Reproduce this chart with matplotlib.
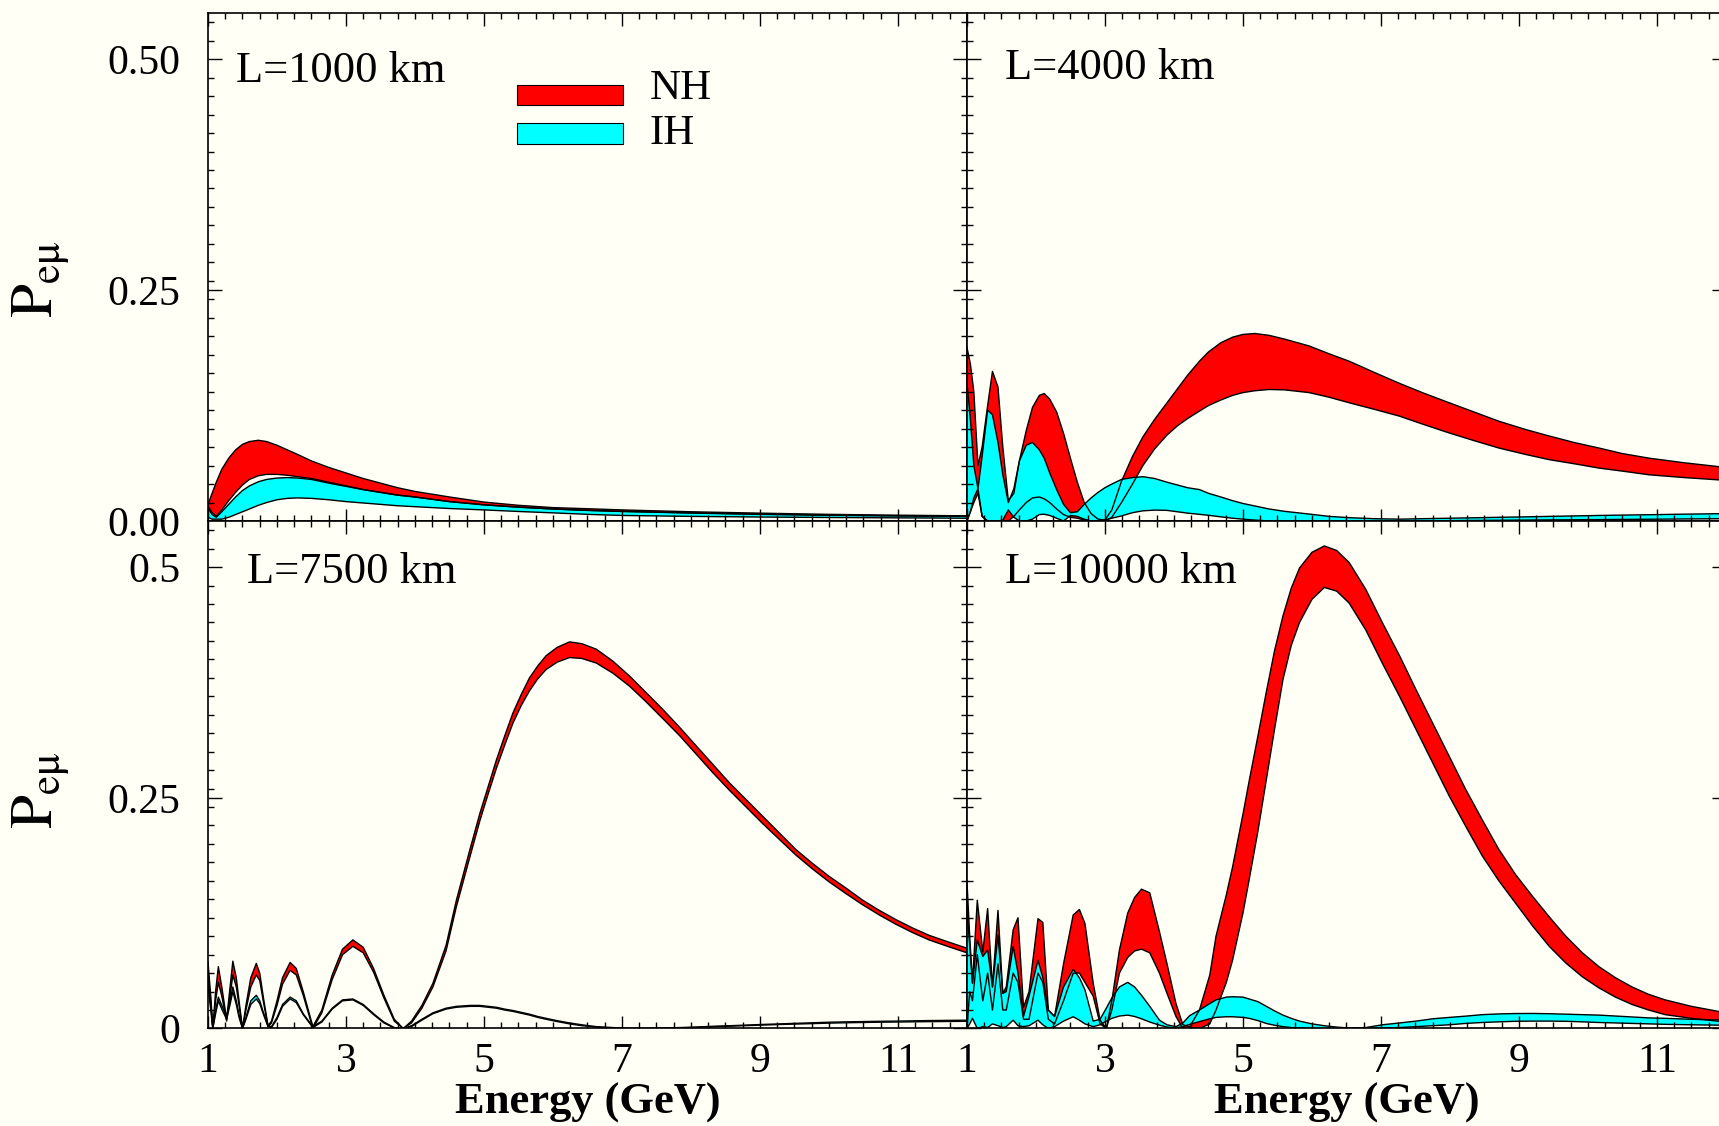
import matplotlib
matplotlib.use('Agg')
import matplotlib.pyplot as plt
from matplotlib.patches import Rectangle
from matplotlib.ticker import FixedLocator, MultipleLocator

plt.rcParams['font.family'] = ['Liberation Serif', 'DejaVu Serif']
plt.rcParams['mathtext.fontset'] = 'stix'

BG = '#fffff5'
NH_COLOR = '#ff0000'
IH_COLOR = '#00ffff'

# L = 1000 km
e_1000 = [1.00, 1.06, 1.12, 1.20, 1.30, 1.40, 1.50, 1.60, 1.73, 1.85, 2.00, 2.15, 2.30, 2.50, 2.75, 3.00,
          3.25, 3.50, 3.75, 4.00, 4.50, 5.00, 5.50, 6.00, 6.50, 7.00, 8.00, 9.00, 10.00, 11.00, 12.00]
nh_hi_1000 = [0.018, 0.03, 0.042, 0.056, 0.068, 0.077, 0.083, 0.086, 0.0874, 0.086, 0.082, 0.077, 0.072, 0.065,
              0.058, 0.052, 0.046, 0.041, 0.036, 0.032, 0.026, 0.0205, 0.017, 0.0145, 0.0133, 0.012, 0.010,
              0.0085, 0.0072, 0.0063, 0.0056]
nh_lo_1000 = [0.016, 0.009, 0.005, 0.012, 0.022, 0.031, 0.039, 0.045, 0.049, 0.0505, 0.0505, 0.0495, 0.048,
              0.046, 0.042, 0.038, 0.034, 0.031, 0.028, 0.026, 0.021, 0.0175, 0.015, 0.013, 0.0115, 0.0105,
              0.0088, 0.0074, 0.0064, 0.0056, 0.005]
ih_hi_1000 = [0.014, 0.007, 0.004, 0.01, 0.018, 0.026, 0.033, 0.038, 0.0425, 0.045, 0.0465, 0.047, 0.0465,
              0.045, 0.041, 0.0375, 0.034, 0.031, 0.028, 0.026, 0.021, 0.0175, 0.015, 0.013, 0.0115, 0.0103,
              0.0086, 0.0072, 0.0062, 0.0055, 0.005]
ih_lo_1000 = [0.004, 0.002, 0.002, 0.002, 0.004, 0.007, 0.01, 0.013, 0.017, 0.02, 0.023, 0.0245, 0.025,
              0.0245, 0.023, 0.021, 0.0195, 0.018, 0.0165, 0.0155, 0.0135, 0.012, 0.0103, 0.0088, 0.0072,
              0.006, 0.005, 0.0043, 0.0038, 0.0034, 0.003]

# L = 4000 km
e_4000 = [1.00, 1.05, 1.10, 1.16, 1.22, 1.30, 1.37, 1.45, 1.52, 1.60, 1.68, 1.76, 1.86, 1.95, 2.05, 2.12,
          2.20, 2.30, 2.40, 2.50, 2.60, 2.70, 2.80, 2.90, 3.00, 3.10, 3.24, 3.40, 3.55, 3.72, 3.90, 4.05,
          4.20, 4.37, 4.50, 4.68, 4.85, 5.00, 5.17, 5.38, 5.60, 5.96, 6.25, 6.54, 6.90, 7.27, 7.60, 7.99,
          8.35, 8.71, 9.10, 9.44, 9.80, 10.16, 10.50, 10.89, 11.40, 12.0]
nh_hi_4000 = [0.188, 0.17, 0.14, 0.06, 0.08, 0.125, 0.162, 0.145, 0.08, 0.022, 0.03, 0.065, 0.098, 0.123,
              0.136, 0.138, 0.132, 0.118, 0.095, 0.068, 0.042, 0.02, 0.008, 0.002, 0.001, 0.012, 0.043,
              0.07, 0.091, 0.11, 0.128, 0.143, 0.158, 0.173, 0.183, 0.193, 0.199, 0.202, 0.203, 0.201, 0.197,
              0.1895, 0.181, 0.173, 0.161, 0.149, 0.139, 0.128, 0.118, 0.108, 0.099, 0.092, 0.085, 0.079,
              0.073, 0.068, 0.063, 0.058]
nh_lo_4000 = [0.0, 0.01, 0.02, 0.03, 0.005, 0.0, 0.0, 0.0, 0.0, 0.0, 0.005, 0.012, 0.02, 0.025, 0.026,
              0.024, 0.02, 0.013, 0.007, 0.004, 0.003, 0.001, 0.0, 0.0, 0.0, 0.004, 0.02, 0.04, 0.06, 0.078,
              0.093, 0.103, 0.111, 0.119, 0.125, 0.131, 0.136, 0.139, 0.141, 0.1424, 0.142, 0.139, 0.134,
              0.128, 0.121, 0.1135, 0.105, 0.0953, 0.087, 0.079, 0.072, 0.0664, 0.062, 0.0573, 0.054, 0.050,
              0.047, 0.044]
ih_hi_4000 = [0.15, 0.11, 0.06, 0.035, 0.07, 0.12, 0.115, 0.085, 0.05, 0.02, 0.035, 0.065, 0.082, 0.085,
              0.077, 0.068, 0.052, 0.034, 0.018, 0.009, 0.01, 0.018, 0.025, 0.031, 0.036, 0.04, 0.045, 0.047,
              0.048, 0.046, 0.042, 0.039, 0.036, 0.034, 0.03, 0.026, 0.022, 0.019, 0.0163, 0.013, 0.0105,
              0.0075, 0.005, 0.0036, 0.0025, 0.002, 0.0025, 0.003, 0.0035, 0.004, 0.0045, 0.005, 0.0055,
              0.006, 0.0064, 0.0068, 0.0074, 0.008]
ih_lo_4000 = [0.0, 0.01, 0.025, 0.035, 0.005, 0.0, 0.0, 0.0, 0.001, 0.012, 0.004, 0.0, 0.0, 0.002, 0.007,
              0.0073, 0.006, 0.003, 0.0, 0.006, 0.005, 0.002, 0.0, 0.0, 0.001, 0.003, 0.0055, 0.009, 0.011,
              0.0118, 0.0115, 0.010, 0.0085, 0.0072, 0.0062, 0.0045, 0.003, 0.002, 0.001, 0.0, 0.0, 0.0,
              0.0, 0.0, 0.0, 0.0, 0.0002, 0.0004, 0.0006, 0.0008, 0.001, 0.0012, 0.0013, 0.0015, 0.0017,
              0.0019, 0.0022, 0.0025]

# L = 7500 km
e_7500 = [1.00, 1.04, 1.07, 1.11, 1.15, 1.20, 1.27, 1.32, 1.36, 1.41, 1.45, 1.50, 1.55, 1.62, 1.70, 1.75,
          1.80, 1.87, 1.92, 2.00, 2.08, 2.19, 2.28, 2.38, 2.52, 2.65, 2.80, 2.95, 3.10, 3.25, 3.40, 3.55,
          3.70, 3.83, 3.95, 4.10, 4.26, 4.45, 4.60, 4.80, 4.94, 5.06, 5.18, 5.30, 5.42, 5.54, 5.66, 5.78,
          5.90, 6.06, 6.24, 6.42, 6.63, 6.87, 7.11, 7.35, 7.59, 7.84, 8.08, 8.32, 8.56, 8.80, 9.04, 9.28,
          9.52, 9.76, 10.00, 10.25, 10.49, 10.73, 10.97, 11.21, 11.45, 11.72, 12.0]
nh_hi_7500 = [0.0724, 0.035, 0.0, 0.04, 0.067, 0.045, 0.01, 0.045, 0.073, 0.055, 0.03, 0.0, 0.025, 0.055,
              0.0705, 0.06, 0.035, 0.003, 0.008, 0.03, 0.055, 0.0716, 0.065, 0.04, 0.002, 0.02, 0.058, 0.086,
              0.096, 0.088, 0.065, 0.036, 0.01, 0.0, 0.008, 0.025, 0.049, 0.09, 0.139, 0.195, 0.233, 0.262,
              0.291, 0.317, 0.342, 0.362, 0.380, 0.393, 0.404, 0.413, 0.419, 0.417, 0.411, 0.398, 0.382,
              0.364, 0.346, 0.326, 0.306, 0.286, 0.266, 0.248, 0.230, 0.212, 0.194, 0.179, 0.165, 0.152,
              0.139, 0.128, 0.118, 0.109, 0.101, 0.094, 0.087]
nh_lo_7500 = [0.06, 0.03, 0.0, 0.03, 0.05, 0.035, 0.008, 0.035, 0.058, 0.045, 0.025, 0.0, 0.02, 0.045,
              0.058, 0.052, 0.03, 0.002, 0.006, 0.025, 0.048, 0.063, 0.058, 0.036, 0.0, 0.017, 0.053, 0.08,
              0.089, 0.082, 0.061, 0.033, 0.008, 0.0, 0.006, 0.022, 0.045, 0.084, 0.132, 0.187, 0.225, 0.254,
              0.282, 0.307, 0.331, 0.35, 0.366, 0.379, 0.389, 0.397, 0.402, 0.401, 0.396, 0.385, 0.371,
              0.354, 0.336, 0.317, 0.297, 0.277, 0.258, 0.240, 0.222, 0.205, 0.188, 0.173, 0.159, 0.146,
              0.134, 0.123, 0.113, 0.104, 0.096, 0.089, 0.082]
ih_hi_7500 = [0.052, 0.025, 0.0, 0.02, 0.034, 0.025, 0.013, 0.03, 0.045, 0.03, 0.015, 0.0, 0.012, 0.03,
              0.036, 0.03, 0.018, 0.003, 0.002, 0.012, 0.026, 0.034, 0.03, 0.016, 0.002, 0.008, 0.022, 0.031,
              0.032, 0.026, 0.016, 0.007, 0.001, 0.0, 0.003, 0.01, 0.017, 0.022, 0.024, 0.025, 0.025, 0.024,
              0.023, 0.021, 0.0195, 0.0175, 0.0155, 0.013, 0.011, 0.0085, 0.006, 0.004, 0.002, 0.001, 0.0003,
              0.0003, 0.0006, 0.001, 0.0016, 0.0024, 0.003, 0.0037, 0.0044, 0.005, 0.0056, 0.0062, 0.0068,
              0.0072, 0.0075, 0.0078, 0.008, 0.0083, 0.0086, 0.0088, 0.009]
ih_lo_7500 = [0.045, 0.02, 0.0, 0.016, 0.03, 0.021, 0.01, 0.026, 0.04, 0.026, 0.012, 0.0, 0.01, 0.026,
              0.032, 0.027, 0.016, 0.002, 0.001, 0.01, 0.024, 0.032, 0.028, 0.015, 0.001, 0.007, 0.021, 0.03,
              0.031, 0.025, 0.015, 0.006, 0.0005, 0.0, 0.002, 0.009, 0.016, 0.021, 0.023, 0.024, 0.024, 0.023,
              0.022, 0.020, 0.0185, 0.0165, 0.0145, 0.012, 0.010, 0.0075, 0.005, 0.003, 0.0015, 0.0005, 0.0,
              0.0, 0.0002, 0.0006, 0.0012, 0.0019, 0.0025, 0.0031, 0.0037, 0.0043, 0.0048, 0.0053, 0.0058,
              0.0062, 0.0065, 0.0068, 0.007, 0.0072, 0.0074, 0.0076, 0.0078]

# L = 10000 km
e_10000 = [1.00, 1.04, 1.08, 1.15, 1.23, 1.30, 1.37, 1.45, 1.52, 1.57, 1.67, 1.74, 1.82, 1.90, 2.03, 2.10,
           2.18, 2.27, 2.40, 2.54, 2.63, 2.71, 2.83, 2.93, 3.02, 3.10, 3.21, 3.33, 3.43, 3.53, 3.65, 3.79,
           3.90, 4.03, 4.13, 4.23, 4.37, 4.52, 4.61, 4.76, 4.85, 5.00, 5.09, 5.22, 5.34, 5.46, 5.58, 5.70,
           5.82, 6.00, 6.18, 6.36, 6.54, 6.78, 7.02, 7.27, 7.51, 7.75, 7.99, 8.23, 8.47, 8.71, 8.95, 9.20,
           9.44, 9.68, 9.92, 10.16, 10.40, 10.64, 10.88, 11.12, 11.50, 12.0]
nh_hi_10000 = [0.16, 0.10, 0.05, 0.139, 0.083, 0.13, 0.045, 0.128, 0.038, 0.045, 0.107, 0.12, 0.023, 0.04,
               0.119, 0.115, 0.02, 0.013, 0.07, 0.123, 0.129, 0.114, 0.049, 0.009, 0.0, 0.03, 0.085, 0.125,
               0.142, 0.151, 0.147, 0.105, 0.07, 0.027, 0.004, 0.002, 0.02, 0.058, 0.1, 0.145, 0.175, 0.232,
               0.268, 0.318, 0.365, 0.41, 0.447, 0.477, 0.499, 0.516, 0.523, 0.518, 0.505, 0.476, 0.44,
               0.404, 0.367, 0.331, 0.295, 0.259, 0.226, 0.194, 0.167, 0.143, 0.121, 0.100, 0.082, 0.067,
               0.055, 0.045, 0.037, 0.031, 0.024, 0.017]
nh_lo_10000 = [0.0, 0.04, 0.03, 0.08, 0.03, 0.06, 0.02, 0.07, 0.02, 0.02, 0.06, 0.05, 0.01, 0.01, 0.06,
               0.05, 0.01, 0.005, 0.03, 0.06, 0.06, 0.05, 0.035, 0.005, 0.0, 0.02, 0.06, 0.077, 0.084, 0.086,
               0.082, 0.06, 0.038, 0.013, 0.0, 0.0, 0.0, 0.005, 0.02, 0.05, 0.074, 0.125, 0.161, 0.215,
               0.27, 0.325, 0.378, 0.415, 0.44, 0.465, 0.478, 0.474, 0.461, 0.432, 0.396, 0.36, 0.324,
               0.288, 0.252, 0.219, 0.187, 0.16, 0.136, 0.111, 0.089, 0.071, 0.056, 0.044, 0.034, 0.026,
               0.02, 0.015, 0.011, 0.007]
ih_hi_10000 = [0.128, 0.09, 0.049, 0.096, 0.078, 0.085, 0.045, 0.101, 0.038, 0.04, 0.089, 0.06, 0.013,
               0.035, 0.074, 0.055, 0.02, 0.013, 0.045, 0.064, 0.055, 0.042, 0.008, 0.01, 0.022, 0.033,
               0.045, 0.05, 0.045, 0.036, 0.024, 0.009, 0.004, 0.002, 0.006, 0.014, 0.02, 0.027, 0.031,
               0.034, 0.0344, 0.034, 0.032, 0.029, 0.024, 0.019, 0.0145, 0.011, 0.008, 0.005, 0.003, 0.0015,
               0.0005, 0.001, 0.004, 0.006, 0.008, 0.0105, 0.012, 0.0134, 0.015, 0.0158, 0.0162, 0.0163,
               0.016, 0.0155, 0.015, 0.0145, 0.0135, 0.0125, 0.0115, 0.011, 0.01, 0.009]
ih_lo_10000 = [0.0, 0.005, 0.011, 0.0, 0.002, 0.001, 0.005, 0.003, 0.001, 0.002, 0.009, 0.003, 0.002,
               0.003, 0.009, 0.004, 0.0, 0.002, 0.008, 0.0127, 0.009, 0.005, 0.002, 0.004, 0.008, 0.011,
               0.0135, 0.0145, 0.013, 0.0105, 0.007, 0.0036, 0.0015, 0.0007, 0.002, 0.0045, 0.0075, 0.0105,
               0.012, 0.0127, 0.0127, 0.012, 0.011, 0.0085, 0.0054, 0.0035, 0.002, 0.001, 0.0005, 0.0, 0.0,
               0.0, 0.0, 0.0, 0.0005, 0.001, 0.002, 0.003, 0.004, 0.0055, 0.0065, 0.0072, 0.0078, 0.008,
               0.008, 0.0078, 0.0072, 0.0065, 0.006, 0.0055, 0.005, 0.0045, 0.004, 0.0035]

x_major = [1, 3, 5, 7, 9, 11]
x_major_labels = ['1', '3', '5', '7', '9', '11']
y_major = [0, 0.25, 0.5]
y_labels_top = ['0.00', '0.25', '0.50']
y_labels_bottom = ['0', '0.25', '0.5']
legend_names = ['NH', 'IH']
legend_colors = [NH_COLOR, IH_COLOR]


def draw_band(ax, e, hi, lo, color):
    ax.fill_between(e, lo, hi, facecolor=color, linewidth=0)
    ax.plot(e, hi, color='black', lw=1.0)
    ax.plot(e, lo, color='black', lw=1.0)


def style_axes(ax, show_x, y_labels):
    ax.set_facecolor(BG)
    ax.set_xlim(1, 12)
    ax.set_ylim(0, 0.55)
    ax.xaxis.set_major_locator(FixedLocator(x_major))
    ax.xaxis.set_minor_locator(MultipleLocator(0.25))
    ax.yaxis.set_major_locator(FixedLocator(y_major))
    ax.yaxis.set_minor_locator(MultipleLocator(0.02))
    ax.tick_params(which='both', direction='in', top=True, right=True, width=1.0, labelsize=30)
    ax.tick_params(which='major', length=9)
    ax.tick_params(which='minor', length=4.5)
    ax.tick_params(axis='y', which='major', length=10, pad=20)
    ax.tick_params(axis='x', which='major', pad=10)
    if show_x:
        ax.set_xticklabels(x_major_labels)
        ax.set_xlabel('Energy (GeV)', fontsize=32, fontweight='bold', labelpad=1)
    else:
        ax.set_xticklabels([])
    if y_labels is not None:
        ax.set_yticklabels(y_labels)
    else:
        ax.set_yticklabels([])
    for sp in ax.spines.values():
        sp.set_linewidth(1.2)


def draw_legend(ax):
    # boxes and names placed in axes fractions, as in the original figure
    box_y = [0.818, 0.743]
    text_y = [0.85, 0.762]
    for name, color, y, ty in zip(legend_names, legend_colors, box_y, text_y):
        ax.add_patch(Rectangle((0.407, y), 0.1397, 0.04, transform=ax.transAxes,
                               facecolor=color, edgecolor='black', lw=0.8, zorder=5))
        ax.text(0.582, ty, name, transform=ax.transAxes, fontsize=31,
                ha='left', va='center', zorder=5)


def main():
    fig = plt.figure(figsize=(17.19, 11.26), dpi=100, facecolor=BG)
    left, mid, right = 0.1210, 0.5625, 1.0047
    bottom, middle, top = 0.0866, 0.5373, 0.98845
    w = mid - left
    ax_tl = fig.add_axes([left, middle, w, top - middle])
    ax_tr = fig.add_axes([mid, middle, w, top - middle])
    ax_bl = fig.add_axes([left, bottom, w, middle - bottom])
    ax_br = fig.add_axes([mid, bottom, w, middle - bottom])

    panels = [
        (ax_tl, e_1000, nh_hi_1000, nh_lo_1000, ih_hi_1000, ih_lo_1000, 'L=1000 km', 0.037, 0.885),
        (ax_tr, e_4000, nh_hi_4000, nh_lo_4000, ih_hi_4000, ih_lo_4000, 'L=4000 km', 0.05, 0.891),
        (ax_bl, e_7500, nh_hi_7500, nh_lo_7500, ih_hi_7500, ih_lo_7500, 'L=7500 km', 0.051, 0.899),
        (ax_br, e_10000, nh_hi_10000, nh_lo_10000, ih_hi_10000, ih_lo_10000, 'L=10000 km', 0.05, 0.899),
    ]
    for ax, e, nh_hi, nh_lo, ih_hi, ih_lo, label, tx, ty in panels:
        draw_band(ax, e, nh_hi, nh_lo, NH_COLOR)
        draw_band(ax, e, ih_hi, ih_lo, IH_COLOR)
        ax.text(tx, ty, label, transform=ax.transAxes, fontsize=32, ha='left', va='center')

    style_axes(ax_tl, False, y_labels_top)
    style_axes(ax_tr, False, None)
    style_axes(ax_bl, True, y_labels_bottom)
    style_axes(ax_br, True, None)

    draw_legend(ax_tl)

    ylab = r'$\mathrm{P}_{\mathrm{e\mu}}$'
    fig.text(0.024, 1 - 279 / 1126, ylab, rotation=90, fontsize=44, ha='center', va='center')
    fig.text(0.024, 1 - 790 / 1126, ylab, rotation=90, fontsize=44, ha='center', va='center')

    fig.savefig('out.png', dpi=100, facecolor=BG)


if __name__ == '__main__':
    main()
